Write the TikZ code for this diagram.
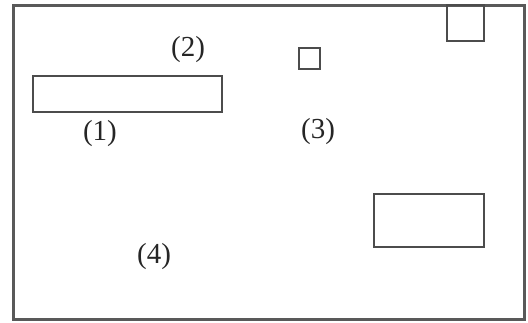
\documentclass[tikz,border=0pt]{standalone}
\usepackage{fontspec}
\setmainfont{Liberation Serif}
\begin{document}
\begin{tikzpicture}[x=1pt,y=-1pt,
  frame/.style={draw=black!65,line width=3pt},
  box/.style={draw=black!70,line width=2.8pt},
  lab/.style={font=\fontsize{29}{29}\selectfont,text=black!85,inner sep=0pt}]
\useasboundingbox (0,0) rectangle (528,322);
\draw[frame] (13,5) rectangle (524,319);
\draw[box] (33,76) rectangle (222,112);
\draw[box] (299,48) rectangle (320,69);
\draw[box] (447,5) rectangle (484,41);
\draw[box] (374,194) rectangle (484,247);
\node[lab] (l1) at (100,134) {(1)};
\node[lab] (l2) at (188,50) {(2)};
\node[lab] (l3) at (318,132) {(3)};
\node[lab] (l4) at (154,257) {(4)};
\end{tikzpicture}
\end{document}
